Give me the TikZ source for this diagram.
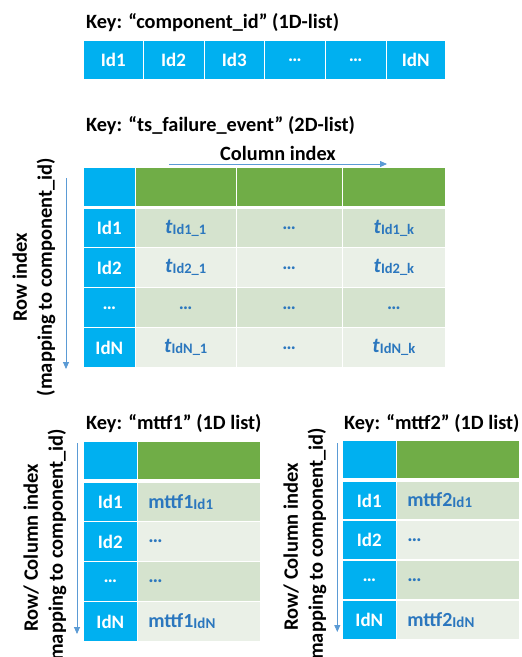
\documentclass[tikz,border=0pt]{standalone}
\usepackage{fontspec}
\setmainfont{Carlito}
\usetikzlibrary{arrows.meta}

\definecolor{idblue}{HTML}{00B0F0}
\definecolor{hdrgreen}{HTML}{70AD47}
\definecolor{banddark}{HTML}{D5E3CE}
\definecolor{bandlight}{HTML}{EAF0E7}
\definecolor{valblue}{HTML}{2B77BE}
\definecolor{axisblue}{HTML}{5B9BD5}

\tikzset{
  cellbase/.style={inner sep=0pt, outer sep=0pt, draw=none},
  idcell/.style={cellbase, fill=idblue, text=white, font=\fontsize{19}{21}\selectfont\bfseries},
  hdrcell/.style={cellbase, fill=hdrgreen},
  darkcell/.style={cellbase, fill=banddark, text=valblue, font=\fontsize{19}{21}\selectfont\bfseries},
  lightcell/.style={cellbase, fill=bandlight, text=valblue, font=\fontsize{19}{21}\selectfont\bfseries},
  valtext/.style={inner sep=0pt, text=valblue, font=\fontsize{20}{22}\selectfont\bfseries},
  keytitle/.style={inner sep=0pt, anchor=base west, font=\fontsize{20.3}{23}\selectfont\bfseries},
  axislabel/.style={inner sep=0pt, rotate=90, align=center, font=\fontsize{20.5}{25}\selectfont\bfseries},
  axisarrow/.style={draw=axisblue, line width=0.8pt, -{Triangle[length=7pt,width=6pt]}},
}

% cell: name, x1, y1, x2, y2, style, text
\newcommand\tcell[7]{%
  \node[#6, minimum width={#4-#2}, minimum height={#5-#3}] (#1) at ({(#2+#4)/2},{(#3+#5)/2}) {#7};}
% time value t with a small index
\newcommand\tval[1]{{\fontsize{21}{21}\selectfont\textit{t}}\raisebox{-1pt}{\fontsize{14.5}{14.5}\selectfont #1}}
% mttf value with a small index
\newcommand\mval[2]{#1\raisebox{-1pt}{\fontsize{15}{15}\selectfont #2}}

\begin{document}
\begin{tikzpicture}[x=1pt,y=-1pt]
\useasboundingbox (0,0) rectangle (522,657);
\clip (0,0) rectangle (522,657);
\path[fill=white] (0,0) rectangle (522,657);

% ---------- component_id ----------
\node[keytitle] (k1) at (86,28) {Key: “component\_id” (1D-list)};
\tcell{a1}{84}{41}{142.5}{79}{idcell}{Id1}
\tcell{a2}{143.5}{41}{203.5}{79}{idcell}{Id2}
\tcell{a3}{204.5}{41}{264}{79}{idcell}{Id3}
\tcell{a4}{265}{41}{325}{79}{idcell}{…}
\tcell{a5}{326}{41}{385.5}{79}{idcell}{…}
\tcell{a6}{386.5}{41}{445}{79}{idcell}{IdN}

% ---------- ts_failure_event ----------
\node[keytitle] (k2) at (86,131) {Key: “ts\_failure\_event” (2D-list)};
\node[inner sep=0pt, anchor=base, font=\fontsize{20.3}{22}\selectfont\bfseries] (colidx) at (278,160) {Column index};
\coordinate (ca1) at (169,164);
\coordinate (ca2) at (387,164);
\draw[axisarrow] (ca1) -- (ca2);

\node[axislabel] (rowlab) at (34,277) {Row index\\(mapping to component\_id)};
\coordinate (ra1) at (66,178);
\coordinate (ra2) at (66,369);
\draw[axisarrow] (ra1) -- (ra2);

% header
\tcell{h0}{84}{168.3}{134.7}{205.7}{idcell}{}
\tcell{h1}{135.7}{168.3}{235.7}{205.7}{hdrcell}{}
\tcell{h2}{236.7}{168.3}{341.7}{205.7}{hdrcell}{}
\tcell{h3}{342.7}{168.3}{445}{205.7}{hdrcell}{}
% row 1
\tcell{r1c0}{84}{209.3}{134.7}{247.3}{idcell}{Id1}
\tcell{r1c1}{135.7}{209.3}{235.7}{247.3}{darkcell}{\tval{Id1\_1}}
\tcell{r1c2}{236.7}{209.3}{341.7}{247.3}{darkcell}{…}
\tcell{r1c3}{342.7}{209.3}{445}{247.3}{darkcell}{\tval{Id1\_k}}
% row 2
\tcell{r2c0}{84}{248.3}{134.7}{287.3}{idcell}{Id2}
\tcell{r2c1}{135.7}{248.3}{235.7}{287.3}{lightcell}{\tval{Id2\_1}}
\tcell{r2c2}{236.7}{248.3}{341.7}{287.3}{lightcell}{…}
\tcell{r2c3}{342.7}{248.3}{445}{287.3}{lightcell}{\tval{Id2\_k}}
% row 3
\tcell{r3c0}{84}{288.3}{134.7}{327.3}{idcell}{…}
\tcell{r3c1}{135.7}{288.3}{235.7}{327.3}{darkcell}{…}
\tcell{r3c2}{236.7}{288.3}{341.7}{327.3}{darkcell}{…}
\tcell{r3c3}{342.7}{288.3}{445}{327.3}{darkcell}{…}
% row 4
\tcell{r4c0}{84}{328.3}{134.7}{367.3}{idcell}{IdN}
\tcell{r4c1}{135.7}{328.3}{235.7}{367.3}{lightcell}{\tval{IdN\_1}}
\tcell{r4c2}{236.7}{328.3}{341.7}{367.3}{lightcell}{…}
\tcell{r4c3}{342.7}{328.3}{445}{367.3}{lightcell}{\tval{IdN\_k}}

% ---------- mttf1 ----------
\node[keytitle] (k3) at (86,429.5) {Key: “mttf1” (1D list)};
\node[axislabel] (lab1) at (45,548) {Row/ Column index\\(mapping to component\_id)};
\coordinate (la1) at (77,443);
\coordinate (la2) at (77,634);
\draw[axisarrow] (la1) -- (la2);

\tcell{p0}{84}{441.7}{136.7}{479.3}{idcell}{}
\tcell{p0v}{137.7}{441.7}{260}{479.3}{hdrcell}{}
\tcell{p1}{84}{483.3}{136.7}{520.7}{idcell}{Id1}
\tcell{p1v}{137.7}{483.3}{260}{520.7}{darkcell}{}
\tcell{p2}{84}{522.3}{136.7}{560.7}{idcell}{Id2}
\tcell{p2v}{137.7}{522.3}{260}{560.7}{lightcell}{}
\tcell{p3}{84}{562.3}{136.7}{600.7}{idcell}{…}
\tcell{p3v}{137.7}{562.3}{260}{600.7}{darkcell}{}
\tcell{p4}{84}{602.3}{136.7}{640.7}{idcell}{IdN}
\tcell{p4v}{137.7}{602.3}{260}{640.7}{lightcell}{}
\node[valtext, anchor=west] (p1t) at ([xshift=10.5]p1v.west) {\mval{mttf1}{Id1}};
\node[valtext, anchor=west] (p2t) at ([xshift=10.5]p2v.west) {…};
\node[valtext, anchor=west] (p3t) at ([xshift=10.5]p3v.west) {…};
\node[valtext, anchor=west] (p4t) at ([xshift=10.5]p4v.west) {\mval{mttf1}{IdN}};

% ---------- mttf2 ----------
\node[keytitle] (k4) at (344,429.5) {Key: “mttf2” (1D list)};
\node[axislabel] (lab2) at (305,547) {Row/ Column index\\(mapping to component\_id)};
\coordinate (lb1) at (337.3,443);
\coordinate (lb2) at (337.3,632);
\draw[axisarrow] (lb1) -- (lb2);

\tcell{q0}{342.7}{440.7}{396}{478.3}{idcell}{}
\tcell{q0v}{396.7}{440.7}{519.3}{478.3}{hdrcell}{}
\tcell{q1}{342.7}{481.7}{396}{519.3}{idcell}{Id1}
\tcell{q1v}{396.7}{481.7}{519.3}{519.3}{darkcell}{}
\tcell{q2}{342.7}{520.7}{396}{559.3}{idcell}{Id2}
\tcell{q2v}{396.7}{520.7}{519.3}{559.3}{lightcell}{}
\tcell{q3}{342.7}{561}{396}{599.3}{idcell}{…}
\tcell{q3v}{396.7}{561}{519.3}{599.3}{darkcell}{}
\tcell{q4}{342.7}{601}{396}{639.3}{idcell}{IdN}
\tcell{q4v}{396.7}{601}{519.3}{639.3}{lightcell}{}
\node[valtext, anchor=west] (q1t) at ([xshift=10.5]q1v.west) {\mval{mttf2}{Id1}};
\node[valtext, anchor=west] (q2t) at ([xshift=10.5]q2v.west) {…};
\node[valtext, anchor=west] (q3t) at ([xshift=10.5]q3v.west) {…};
\node[valtext, anchor=west] (q4t) at ([xshift=10.5]q4v.west) {\mval{mttf2}{IdN}};
\end{tikzpicture}
\end{document}
